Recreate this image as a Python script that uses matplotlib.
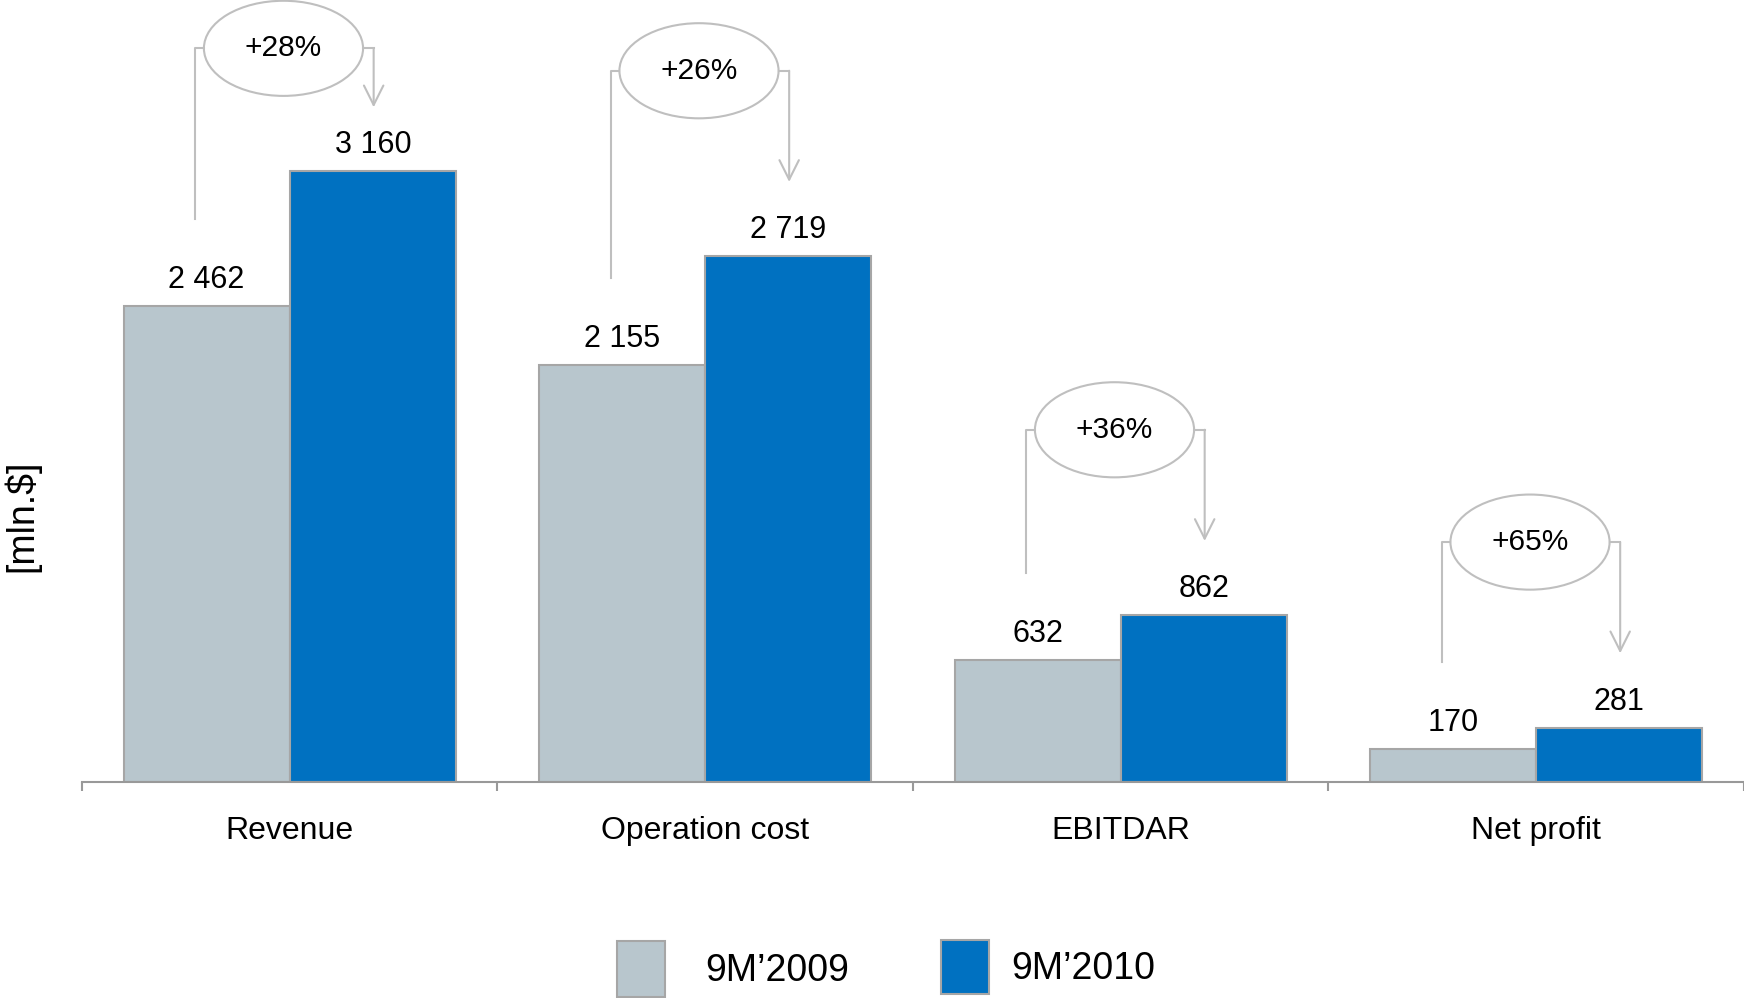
import numpy as np
import matplotlib.pyplot as plt
from matplotlib.patches import Ellipse

plt.rcParams['font.family'] = ['Liberation Sans', 'DejaVu Sans']

categories = ['Revenue', 'Operation cost', 'EBITDAR', 'Net profit']
v2009 = [2462, 2155, 632, 170]
v2010 = [3160, 2719, 862, 281]
growth = ['+28%', '+26%', '+36%', '+65%']
series_names = ['9M\u20192009', '9M\u20192010']

grey = '#b8c6cd'
blue = '#0071c1'
edge = '#a6a6a6'
line_c = '#bfbfbf'

fig = plt.figure(figsize=(17.44, 9.98), dpi=100)
ax = fig.add_axes([0.047, 0.2164, 0.953, 0.7836])

x = np.arange(len(categories))
w = 0.4
b1 = ax.bar(x - w / 2, v2009, w, color=grey, edgecolor=edge, linewidth=1.5, label=series_names[0])
b2 = ax.bar(x + w / 2, v2010, w, color=blue, edgecolor=edge, linewidth=1.5, label=series_names[1])

def fmt(v):
    return f'{v:,}'.replace(',', ' ')

for xi, a, b in zip(x, v2009, v2010):
    ax.annotate(fmt(a), (xi - w / 2, a), xytext=(0, 13), textcoords='offset points',
                ha='center', va='baseline', fontsize=22)
    ax.annotate(fmt(b), (xi + w / 2, b), xytext=(0, 13), textcoords='offset points',
                ha='center', va='baseline', fontsize=22)

# growth brackets
ell_w, ell_h = 0.383, 492
for xi, a, b, g in zip(x, v2009, v2010, growth):
    ey = min(b + 960, 3795)
    tip = min(b + 385, ey - 305)
    xl, xc, xr = xi - 0.227, xi - 0.015, xi + 0.202
    ax.plot([xl, xl, xc - ell_w / 2], [a + 450, ey, ey], color=line_c, lw=1.5, clip_on=False)
    ax.plot([xc + ell_w / 2, xr], [ey, ey], color=line_c, lw=1.5, clip_on=False)
    ax.annotate('', xy=(xr, tip), xytext=(xr, ey),
                arrowprops=dict(arrowstyle='->,head_length=1.4,head_width=0.7',
                                color=line_c, lw=1.5, shrinkA=0, shrinkB=0),
                annotation_clip=False)
    ax.add_patch(Ellipse((xc, ey), ell_w, ell_h, fc='white', ec=line_c, lw=1.5, clip_on=False))
    ax.text(xc, ey, g, ha='center', va='center', fontsize=21.5)

ax.set_xlim(-0.5, len(categories) - 0.5)
ax.set_ylim(0, 4045)
for s in ['top', 'right', 'left']:
    ax.spines[s].set_visible(False)
ax.spines['bottom'].set_color('#999999')
ax.spines['bottom'].set_linewidth(1.5)
ax.set_yticks([])
ax.set_xticks(x)
ax.set_xticklabels(categories, fontsize=23)
ax.tick_params(axis='x', which='major', length=0, pad=24.5)
ax.set_xticks(np.arange(len(categories) + 1) - 0.5, minor=True)
ax.tick_params(axis='x', which='minor', length=6.5, width=1.5, color='#999999')

fig.text(0.0126, 0.483, '[mln.$]', rotation=90, ha='center', va='center', fontsize=27)

# two single-entry legends (the gaps to the text differ in the original)
fig.legend(handles=[b1], loc='center left', bbox_to_anchor=(617 / 1744, 0.029),
           frameon=False, fontsize=27, handlelength=1.27, handleheight=1.95,
           handletextpad=1.08, borderpad=0, borderaxespad=0)
fig.legend(handles=[b2], loc='center left', bbox_to_anchor=(941 / 1744, 0.031),
           frameon=False, fontsize=27, handlelength=1.27, handleheight=1.85,
           handletextpad=0.6, borderpad=0, borderaxespad=0)

fig.savefig('out.png', dpi=100)
